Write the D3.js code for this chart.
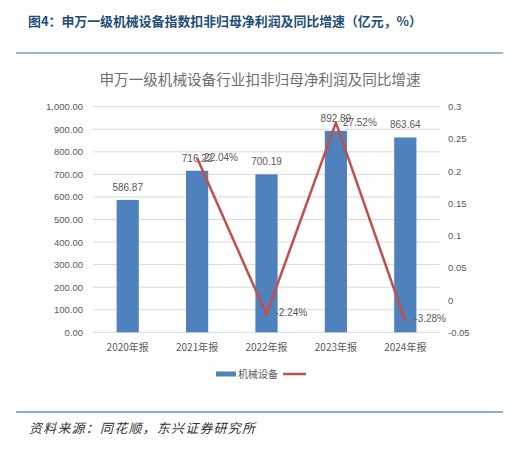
<!DOCTYPE html>
<html>
<head>
<meta charset="utf-8">
<script src="https://cdn.jsdelivr.net/npm/d3@7/dist/d3.min.js"></script>
<style>
  body { margin: 0; background: #fff; }
  svg text { font-family: "Noto Sans CJK SC", "Noto Sans", sans-serif; }
</style>
</head>
<body>
<svg id="chart" width="509" height="450"></svg>
<script>
// data
var years = ["2020年报", "2021年报", "2022年报", "2023年报", "2024年报"];
var profit = [586.87, 716.22, 700.19, 892.89, 863.64];
var growth = [null, 0.2204, -0.0224, 0.2752, -0.0328];
var leftTicks = [0, 100, 200, 300, 400, 500, 600, 700, 800, 900, 1000];
var rightTicks = [-0.05, 0, 0.05, 0.1, 0.15, 0.2, 0.25, 0.3];

var barColor = "#4F81BD",
    lineColor = "#C0504D",
    textGray = "#595959",
    gridColor = "#D9D9D9";

var svg = d3.select("#chart");

// page header
svg.append("text")
    .attr("x", 28).attr("y", 26)
    .attr("font-size", 12.9).attr("font-weight", "bold")
    .attr("fill", "#1F4E79")
    .text("图4：申万一级机械设备指数扣非归母净利润及同比增速（亿元，%）");

svg.append("line")
    .attr("x1", 16).attr("x2", 503).attr("y1", 53).attr("y2", 53)
    .attr("stroke", "#3A6EA5").attr("stroke-width", 1.2);

// chart title
svg.append("text")
    .attr("x", 260).attr("y", 85)
    .attr("text-anchor", "middle")
    .attr("font-size", 14.6).attr("fill", "#6E6E6E")
    .text("申万一级机械设备行业扣非归母净利润及同比增速");

var plot = {left: 93, right: 440, top: 106.7, bottom: 332.3};

var x = d3.scaleBand()
    .domain(years)
    .range([plot.left, plot.right])
    .paddingInner(0.68).paddingOuter(0.34);

var y = d3.scaleLinear().domain([0, 1000]).range([plot.bottom, plot.top]);
var y2 = d3.scaleLinear().domain([-0.05, 0.3]).range([plot.bottom, plot.top]);

// grid
svg.append("g").selectAll("line")
    .data(leftTicks)
    .join("line")
    .attr("x1", plot.left).attr("x2", plot.right)
    .attr("y1", function (d) { return y(d); })
    .attr("y2", function (d) { return y(d); })
    .attr("stroke", gridColor).attr("stroke-width", 1);

// left axis
var yAxis = d3.axisLeft(y).tickValues(leftTicks).tickSize(0).tickPadding(10)
    .tickFormat(d3.format(",.2f"));
var gl = svg.append("g").attr("transform", "translate(" + plot.left + ",0)").call(yAxis);
gl.select(".domain").remove();
gl.selectAll("text").attr("fill", textGray).attr("font-size", 9.5)
    .style("font-family", "'Liberation Sans Narrow', 'Liberation Sans', sans-serif");

// right axis
var yAxis2 = d3.axisRight(y2).tickValues(rightTicks).tickSize(0).tickPadding(8)
    .tickFormat(function (d) { return String(+d.toFixed(2)); });
var gr = svg.append("g").attr("transform", "translate(" + plot.right + ",0)").call(yAxis2);
gr.select(".domain").remove();
gr.selectAll("text").attr("fill", textGray).attr("font-size", 9.5)
    .style("font-family", "'Liberation Sans Narrow', 'Liberation Sans', sans-serif");

// x axis labels
var xAxis = d3.axisBottom(x).tickSize(0).tickPadding(12);
var gx = svg.append("g").attr("transform", "translate(0," + plot.bottom + ")").call(xAxis);
gx.select(".domain").remove();
gx.selectAll("text").attr("fill", textGray).attr("font-size", 10);

// bars
svg.append("g").selectAll("rect")
    .data(profit)
    .join("rect")
    .attr("x", function (d, i) { return x(years[i]); })
    .attr("width", x.bandwidth())
    .attr("y", function (d) { return y(d); })
    .attr("height", function (d) { return plot.bottom - y(d); })
    .attr("fill", barColor);

// bar labels
svg.append("g").selectAll("text")
    .data(profit)
    .join("text")
    .attr("x", function (d, i) { return x(years[i]) + x.bandwidth() / 2; })
    .attr("y", function (d) { return y(d) - 9; })
    .attr("text-anchor", "middle")
    .attr("font-size", 10).attr("fill", textGray)
    .style("font-family", "'Liberation Sans Narrow', 'Liberation Sans', sans-serif")
    .text(function (d) { return d.toFixed(2); });

// growth line
var pts = growth.map(function (g, i) { return {year: years[i], g: g}; })
    .filter(function (p) { return p.g !== null; });

var line = d3.line()
    .x(function (p) { return x(p.year) + x.bandwidth() / 2; })
    .y(function (p) { return y2(p.g); });

svg.append("path")
    .datum(pts)
    .attr("d", line)
    .attr("fill", "none")
    .attr("stroke", lineColor).attr("stroke-width", 2.5)
    .attr("stroke-linejoin", "round");

svg.append("g").selectAll("text")
    .data(pts)
    .join("text")
    .attr("x", function (p) { return x(p.year) + x.bandwidth() / 2 + (p.g < 0 ? 9 : 7); })
    .attr("y", function (p) { return y2(p.g) + (p.g < 0 ? 1 : 3); })
    .attr("font-size", 10).attr("fill", textGray)
    .style("font-family", "'Liberation Sans Narrow', 'Liberation Sans', sans-serif")
    .text(function (p) { return (p.g * 100).toFixed(2) + "%"; });

// legend
var lg = svg.append("g").attr("transform", "translate(216,374)");
lg.append("rect").attr("x", 0).attr("y", -2.5).attr("width", 20).attr("height", 5).attr("fill", barColor);
lg.append("text").attr("x", 22).attr("y", 4).attr("font-size", 10).attr("fill", textGray).text("机械设备");
lg.append("line").attr("x1", 67).attr("x2", 90).attr("y1", 0).attr("y2", 0)
    .attr("stroke", lineColor).attr("stroke-width", 2.5);

// footer
svg.append("line")
    .attr("x1", 16).attr("x2", 503).attr("y1", 412).attr("y2", 412)
    .attr("stroke", "#1F5C99").attr("stroke-width", 1.2);

svg.append("text")
    .attr("x", 29).attr("y", 433)
    .attr("font-size", 13).attr("font-style", "italic")
    .attr("letter-spacing", 1.2)
    .attr("fill", "#333")
    .text("资料来源：同花顺，东兴证券研究所");
</script>
</body>
</html>
